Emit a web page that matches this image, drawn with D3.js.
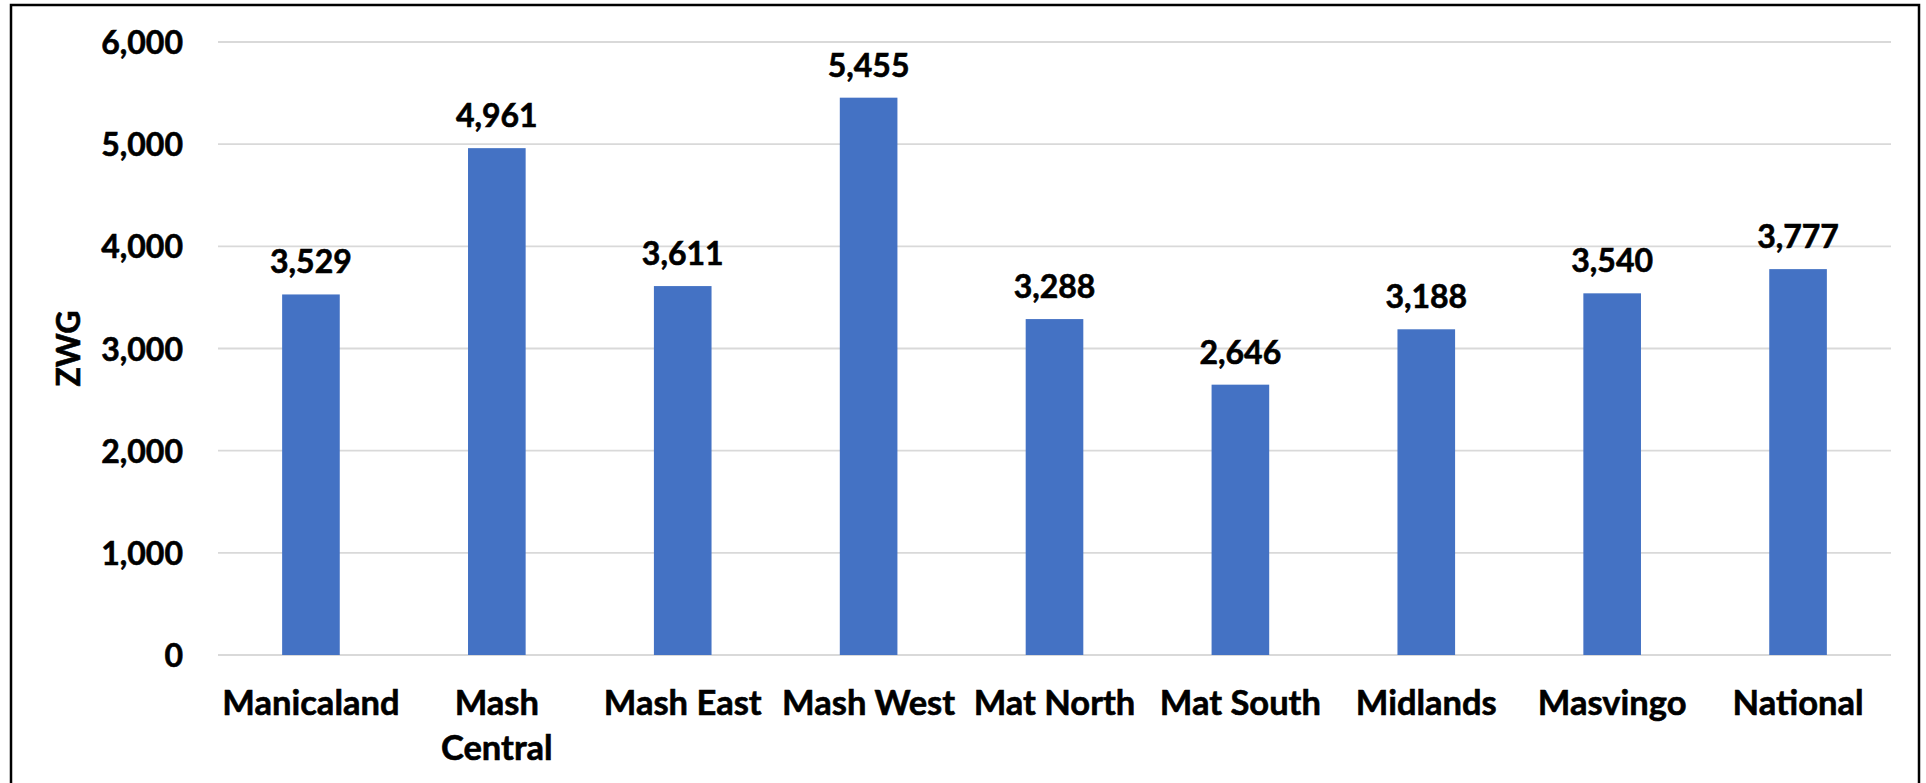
<!DOCTYPE html>
<html>
<head>
<meta charset="utf-8">
<script src="https://cdn.jsdelivr.net/npm/d3@7"></script>
<style>
  html, body { margin: 0; padding: 0; background: #fff; }
  svg { display: block; }
  text { font-family: Lato, "Open Sans", sans-serif; font-weight: 700; fill: #000; stroke: #000; stroke-width: 0.6px; }
</style>
</head>
<body>
<svg id="chart" width="1926" height="783"></svg>
<script>
// Average value per province (ZWG)
const categories = ["Manicaland", "Mash Central", "Mash East", "Mash West", "Mat North", "Mat South", "Midlands", "Masvingo", "National"];
const values = [3529, 4961, 3611, 5455, 3288, 2646, 3188, 3540, 3777];
const yTicks = [0, 1000, 2000, 3000, 4000, 5000, 6000];
const yTitle = "ZWG";

const W = 1926, H = 783;
const margin = { left: 218, right: 35, top: 42, bottom: 128 };
const svg = d3.select("#chart");

// outer frame
svg.append("rect")
  .attr("x", 11).attr("y", 5)
  .attr("width", 1908).attr("height", 800)
  .attr("fill", "none").attr("stroke", "#000").attr("stroke-width", 2.5);

const x = d3.scaleBand()
  .domain(categories)
  .range([margin.left, W - margin.right])
  .paddingInner(0.69).paddingOuter(0.345);

const y = d3.scaleLinear()
  .domain([0, 6000])
  .range([H - margin.bottom, margin.top]);

const fmt = d3.format(",");

// horizontal gridlines
svg.append("g")
  .selectAll("line")
  .data(yTicks)
  .join("line")
  .attr("x1", margin.left).attr("x2", W - margin.right)
  .attr("y1", d => y(d)).attr("y2", d => y(d))
  .attr("stroke", "#d9d9d9").attr("stroke-width", 1.8);

// y axis labels
const yAxis = svg.append("g")
  .attr("transform", `translate(${margin.left},0)`)
  .call(d3.axisLeft(y).tickValues(yTicks).tickFormat(fmt).tickSize(0).tickPadding(35));
yAxis.select(".domain").remove();
yAxis.selectAll("text")
  .style("font-size", "32px").style("font-family", "Lato, sans-serif").style("font-weight", 700)
  .attr("dy", "0.36em");

// y axis title
svg.append("text")
  .attr("transform", `translate(80,${(y(0) + y(6000)) / 2}) rotate(-90)`)
  .attr("text-anchor", "middle")
  .style("font-size", "32px")
  .text(yTitle);

// bars
svg.append("g")
  .selectAll("rect")
  .data(values)
  .join("rect")
  .attr("x", (d, i) => x(categories[i]))
  .attr("width", x.bandwidth())
  .attr("y", d => y(d))
  .attr("height", d => y(0) - y(d))
  .attr("fill", "#4472c4");

// value labels
svg.append("g")
  .selectAll("text")
  .data(values)
  .join("text")
  .attr("x", (d, i) => x(categories[i]) + x.bandwidth() / 2)
  .attr("y", d => y(d) - 21)
  .attr("text-anchor", "middle")
  .style("font-size", "32px")
  .text(d => fmt(d));

// category labels, wrapped when wider than the band
const xAxis = svg.append("g")
  .attr("transform", `translate(0,${y(0)})`)
  .call(d3.axisBottom(x).tickSize(0).tickPadding(0));
xAxis.select(".domain").remove();
xAxis.selectAll("text").remove();

const step = x.step();
const catG = svg.append("g");
categories.forEach(c => {
  const cx = x(c) + x.bandwidth() / 2;
  const t = catG.append("text")
    .attr("x", cx).attr("y", 715)
    .attr("text-anchor", "middle")
    .style("font-size", "34.5px")
    .text(c);
  if (t.node().getComputedTextLength() > step + 10) {
    t.text(null);
    c.split(" ").forEach((w, k) => {
      t.append("tspan").attr("x", cx).attr("y", 715 + k * 45).text(w);
    });
  }
});
</script>
</body>
</html>
